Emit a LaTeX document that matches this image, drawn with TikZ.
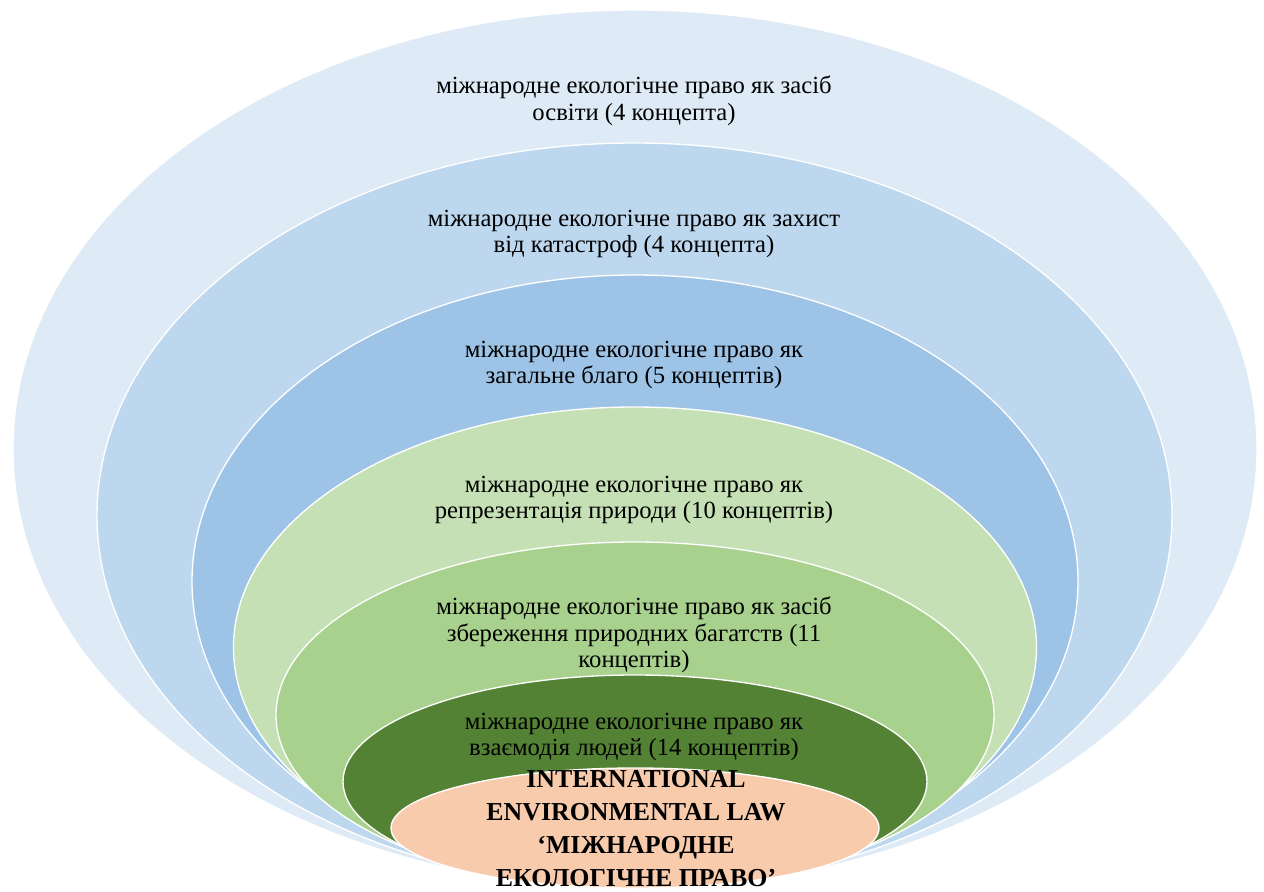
\documentclass[tikz,border=0pt]{standalone}
\usepackage{fontspec}
\setmainfont{Liberation Serif}
\usetikzlibrary{shapes.geometric}

% ring fill colours, outermost to innermost
\definecolor{ringA}{HTML}{DEEAF6}
\definecolor{ringB}{HTML}{BDD7EE}
\definecolor{ringC}{HTML}{9DC3E6}
\definecolor{ringD}{HTML}{C5E0B4}
\definecolor{ringE}{HTML}{A9D18E}
\definecolor{ringF}{HTML}{548235}
\definecolor{ringG}{HTML}{F8CBAD}

\tikzset{
  ring/.style 2 args={ellipse, draw=white, line width=1pt, inner sep=0pt,
    minimum width={#1*1.5pt}, minimum height={#2*1.5pt}},
  label/.style={align=center, inner sep=0pt, text=black,
    font=\fontsize{18.5pt}{20pt}\selectfont},
  core/.style={align=center, inner sep=0pt, text=black,
    font=\fontsize{19.4pt}{24.75pt}\selectfont\bfseries}
}

\begin{document}
\begin{tikzpicture}[x=0.75pt, y=-0.75pt]
  \useasboundingbox (0,0) rectangle (1264,892);
  \clip (0,0) rectangle (1264,892);

  % nested rings, all resting on one common bottom point
  \node[ring={622}{439}, fill=ringA]     (r1) at (635,449)   {};
  \node[ring={537.5}{372.5}, fill=ringB] (r2) at (634.5,515.5) {};
  \node[ring={443}{306.5}, fill=ringC]   (r3) at (635,581.5) {};
  \node[ring={401.5}{240.5}, fill=ringD] (r4) at (635,647.5) {};
  \node[ring={359}{173}, fill=ringE]     (r5) at (635,715)   {};
  \node[ring={292}{106.5}, fill=ringF]   (r6) at (635,781.5) {};
  \node[ring={244}{60}, fill=ringG]      (r7) at (635,828)   {};

  % ring captions
  \node[label] (t1) at (634,101) {міжнародне екологічне право як засіб\\освіти (4 концепта)};
  \node[label] (t2) at (634,234) {міжнародне екологічне право як захист\\від катастроф (4 концепта)};
  \node[label] (t3) at (634,365) {міжнародне екологічне право як\\загальне благо (5 концептів)};
  \node[label] (t4) at (634,500) {міжнародне екологічне право як\\репрезентація природи (10 концептів)};
  \node[label] (t5) at (634,635) {міжнародне екологічне право як засіб\\збереження природних багатств (11\\концептів)};
  \node[label] (t6) at (634,737) {міжнародне екологічне право як\\взаємодія людей (14 концептів)};
  \node[core]  (t7) at (636,829) {INTERNATIONAL\\ENVIRONMENTAL LAW\\‘МІЖНАРОДНЕ\\ЕКОЛОГІЧНЕ ПРАВО’};
\end{tikzpicture}
\end{document}
